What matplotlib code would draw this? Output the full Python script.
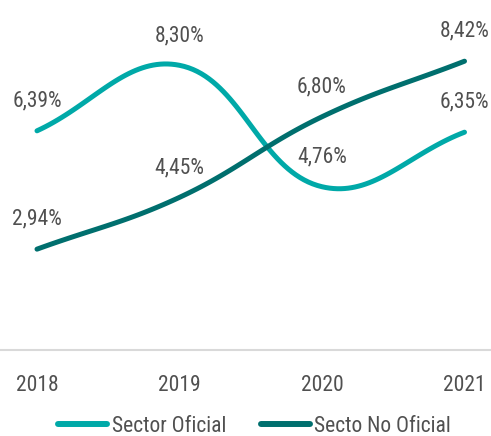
import numpy as np
import matplotlib
matplotlib.use("Agg")
import matplotlib.pyplot as plt
from matplotlib import font_manager

years = [2018, 2019, 2020, 2021]
sector_oficial = [6.39, 8.30, 4.76, 6.35]
sector_no_oficial = [2.94, 4.45, 6.80, 8.42]
series_names = ["Sector Oficial", "Secto No Oficial"]
colors = ["#00A9A8", "#006F6E"]

names = {f.name for f in font_manager.fontManager.ttflist}
family = "Roboto"
for cand in ["Roboto Condensed", "Liberation Sans Narrow", "Archivo Narrow", "Barlow Semi Condensed"]:
    if cand in names:
        family = cand
        break
plt.rcParams["font.family"] = [family, "DejaVu Sans"]

TEXT = "#505050"
FS = 15.5


def spline_path(ax, xs, ys, tension=0.4, n=40):
    # chart.js style cubic spline, computed in pixel space
    pts = ax.transData.transform(np.column_stack([xs, ys]))
    k = len(pts)
    ctrl_prev, ctrl_next = [], []
    for i in range(k):
        prev = pts[i - 1] if i > 0 else pts[i]
        cur = pts[i]
        nxt = pts[i + 1] if i < k - 1 else pts[i]
        d01 = np.hypot(*(cur - prev))
        d12 = np.hypot(*(nxt - cur))
        s01 = d01 / (d01 + d12) if (d01 + d12) else 0
        s12 = d12 / (d01 + d12) if (d01 + d12) else 0
        ctrl_prev.append(cur - tension * s01 * (nxt - prev))
        ctrl_next.append(cur + tension * s12 * (nxt - prev))
    out = [pts[0]]
    u = np.linspace(0, 1, n)[1:, None]
    for i in range(k - 1):
        p0, c1, c2, p1 = pts[i], ctrl_next[i], ctrl_prev[i + 1], pts[i + 1]
        seg = ((1 - u) ** 3) * p0 + 3 * ((1 - u) ** 2) * u * c1 + 3 * (1 - u) * u ** 2 * c2 + u ** 3 * p1
        out.extend(seg)
    out = ax.transData.inverted().transform(np.array(out))
    return out[:, 0], out[:, 1]


fig = plt.figure(figsize=(4.91, 4.36), dpi=100)
ax = fig.add_axes([0, 86 / 436, 1, 350 / 436])

px_year = 142.5
ax.set_xlim(2018 - 37 / px_year, 2021 + 26.5 / px_year)
ax.set_ylim(0, 350 / 34.3)

for name, vals, c in zip(series_names, [sector_oficial, sector_no_oficial], colors):
    sx, sy = spline_path(ax, years, vals)
    ax.plot(sx, sy, color=c, lw=3.6, solid_capstyle="round", label=name)
    for x, v in zip(years, vals):
        ax.annotate(f"{v:.2f}%".replace(".", ","), (x, v), xytext=(0, 21.5),
                    textcoords="offset points", ha="center", va="center",
                    fontsize=FS, color=TEXT)

for s in ["top", "left", "right"]:
    ax.spines[s].set_visible(False)
ax.spines["bottom"].set_color("#D9D9D9")
ax.spines["bottom"].set_linewidth(1.5)
ax.set_yticks([])
ax.set_xticks(years)
ax.set_xticklabels([str(y) for y in years], fontsize=FS, color=TEXT)
ax.tick_params(axis="x", length=0, pad=18)

leg = fig.legend(loc="center", bbox_to_anchor=(0.5 + 9 / 491, 10 / 436), ncol=2, frameon=False,
                 fontsize=FS, handlelength=2.3, handletextpad=0.2, columnspacing=1.6,
                 labelcolor=TEXT)
for h in leg.legend_handles:
    h.set_linewidth(4.3)

fig.savefig("out.png", dpi=100)
